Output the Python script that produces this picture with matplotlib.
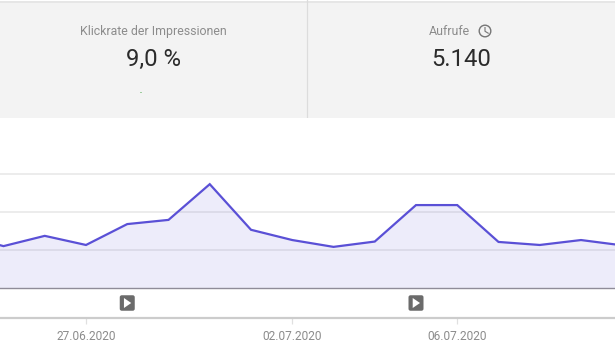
import matplotlib
matplotlib.use("Agg")
import matplotlib.pyplot as plt
import matplotlib.dates as mdates
from matplotlib.patches import Circle, FancyBboxPatch, Polygon
import pandas as pd

plt.rcParams["font.family"] = ["Roboto", "DejaVu Sans"]

dates = pd.date_range("2020-06-24", "2020-07-10")
views = [140, 111, 138, 114, 169, 180, 274, 154, 127, 109, 123, 219, 219, 122, 114, 127, 113]
tick_dates = ["2020-06-27", "2020-07-02", "2020-07-06"]
tick_labels = ["27.06.2020", "02.07.2020", "06.07.2020"]
grid_values = [100, 200, 300]
video_dates = ["2020-06-28", "2020-07-05"]

W, H = 615, 353
PX_PER_DAY = 41.25
PX_PER_UNIT = 38 / 100
ZERO_PX = 288.3
TEXT_GREY = "#8c8c8c"

fig = plt.figure(figsize=(W / 100, H / 100), dpi=100, facecolor="white")


def px_axes(left, top, right, bottom):
    # axes rectangle given in image pixels, y counted from the top
    return fig.add_axes([left / W, 1 - bottom / H, (right - left) / W, (bottom - top) / H])


# header cards
head = px_axes(0, 0, W, 118)
head.set_xlim(0, W)
head.set_ylim(118, 0)
head.axis("off")
head.axhspan(2.5, 118, color="#f3f3f3", lw=0)
head.axhline(1.5, color="#e6e6e6", lw=1.4)
head.axvline(307.3, color="#dcdcdc", lw=0.9)
head.text(153.5, 31.6, "Klickrate der Impressionen", ha="center", va="center", fontsize=8.95, color=TEXT_GREY)
head.text(153.5, 59.4, "9,0 %", ha="center", va="center", fontsize=17.2, color="#2b2b2b")
head.plot([139.5, 141], [92, 92], color="#9ccc9c", lw=0.7)
head.text(449.5, 31.6, "Aufrufe", ha="center", va="center", fontsize=8.95, color=TEXT_GREY)
head.text(461.5, 59.4, "5.140", ha="center", va="center", fontsize=17.2, color="#2b2b2b")

# clock icon
head.add_patch(Circle((485, 31), 5.8, fill=False, ec="#757575", lw=1.0))
head.plot([485, 485, 488.2], [27.5, 31.3, 33.2], color="#757575", lw=0.8)

# chart
ax = px_axes(0, 118, W, 318)
x0 = mdates.date2num(pd.Timestamp(tick_dates[0])) - 86 / PX_PER_DAY
ax.set_xlim(x0, x0 + W / PX_PER_DAY)
ax.set_ylim(-(318 - ZERO_PX) / PX_PER_UNIT, (ZERO_PX - 118) / PX_PER_UNIT)
for s in ["top", "left", "right"]:
    ax.spines[s].set_visible(False)
ax.spines["bottom"].set_color("#cccccc")
ax.spines["bottom"].set_linewidth(1.6)

for v in grid_values:
    ax.axhline(v, color="#ececec", lw=1.4, zorder=1)
ax.fill_between(dates, 0, views, color="#5c52d6", alpha=0.11, lw=0, zorder=2)
ax.axhline(0, color="#8f8c98", lw=1.0, zorder=3)
ax.plot(dates, views, color="#5a50d6", lw=1.6, zorder=4, solid_joinstyle="miter")

ax.set_yticks([])
ax.set_xticks(pd.to_datetime(tick_dates))
ax.set_xticklabels(tick_labels, fontsize=8.6, color=TEXT_GREY)
ax.tick_params(axis="x", length=4, width=0.9, color="#e0e0e0", pad=4.6)

# video markers below the baseline
for d in video_dates:
    xc = mdates.date2num(pd.Timestamp(d))
    w = 15 / PX_PER_DAY
    h = 15.5 / PX_PER_UNIT
    yc = -(303 - ZERO_PX) / PX_PER_UNIT
    ax.add_patch(FancyBboxPatch((xc - w / 2, yc - h / 2), w, h, mutation_aspect=PX_PER_DAY / PX_PER_UNIT,
                                boxstyle=f"round,pad=0,rounding_size={2 / PX_PER_DAY}",
                                fc="#6b6b6b", ec="none", zorder=5))
    ax.add_patch(Polygon([(xc - 3.3 / PX_PER_DAY, yc + 5 / PX_PER_UNIT),
                          (xc - 3.3 / PX_PER_DAY, yc - 5 / PX_PER_UNIT),
                          (xc + 4 / PX_PER_DAY, yc)], fc="white", ec="none", zorder=6))

fig.savefig("out.png", dpi=100)
